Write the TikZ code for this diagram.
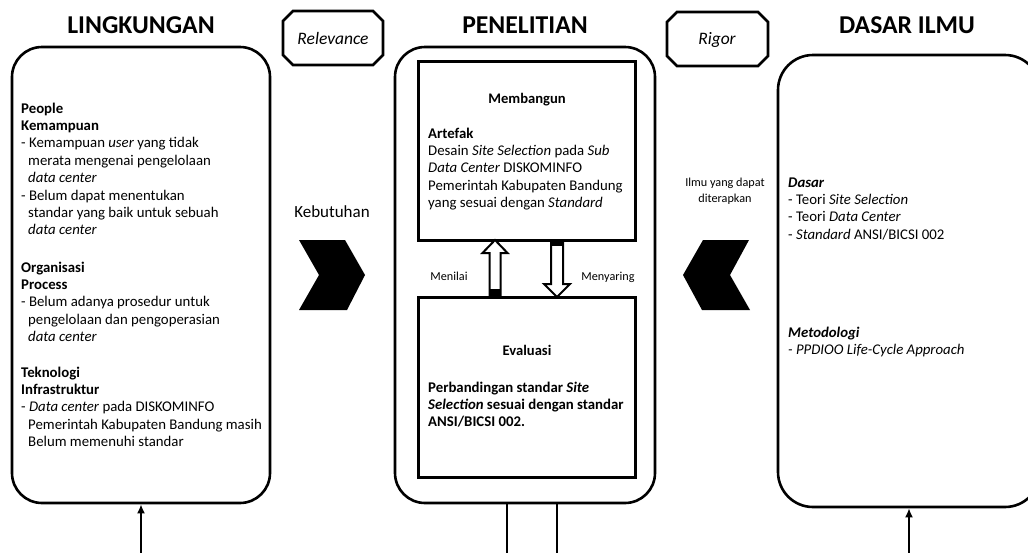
\documentclass[tikz,border=0pt]{standalone}
\usepackage{fontspec}
\setmainfont{Carlito}
\usetikzlibrary{arrows.meta}
\begin{document}
\begin{tikzpicture}[x=1pt,y=-1pt,
  outerbox/.style={draw, line width=2.6pt, rounded corners=30pt, inner sep=0},
  innerbox/.style={draw, line width=3pt, inner sep=0},
  titletext/.style={font=\fontsize{25.7}{30}\selectfont\bfseries, anchor=base, inner sep=0},
  bodytext/.style={font=\fontsize{14.8}{17.4}\selectfont, anchor=base west, inner sep=0},
  headtext/.style={font=\fontsize{14.6}{17.4}\selectfont\bfseries, anchor=base, inner sep=0},
  smalltext/.style={font=\fontsize{12.2}{15}\selectfont, anchor=base, inner sep=0},
  octtext/.style={font=\fontsize{17.5}{20}\selectfont\itshape, anchor=base, inner sep=0},
  octagon/.style={draw, line width=2.6pt, line join=miter},
  chevron/.style={fill=black},
  blockarrow/.style={draw, line width=2pt, fill=white, line join=miter},
  feedarrow/.style={-{Latex[length=9pt,width=8pt]}, line width=2pt}
]
\useasboundingbox (0,0) rectangle (1028,552);
\clip (0,0) rectangle (1028,552);

% titles
\node[titletext] (t1) at (141,33) {LINGKUNGAN};
\node[titletext] (t2) at (525,33) {PENELITIAN};
\node[titletext] (t3) at (907,33) {DASAR ILMU};

% octagons
\draw[octagon] (293,11) -- (373,11) -- (383,21) -- (383,55) -- (373,65) -- (293,65) -- (283,55) -- (283,21) -- cycle;
\node[octtext] (rel) at (333,44) {Relevance};
\draw[octagon] (677,12) -- (758,12) -- (768,22) -- (768,56) -- (758,66) -- (677,66) -- (667,56) -- (667,22) -- cycle;
\node[octtext] (rig) at (717,44) {Rigor};

% main boxes
\node[outerbox, minimum width=258pt, minimum height=456pt] (lbox) at (141,275) {};
\node[outerbox, minimum width=260pt, minimum height=456pt] (cbox) at (525,275) {};
\node[outerbox, rounded corners=35pt, minimum width=262pt, minimum height=452pt] (rbox) at (909,281) {};

% inner boxes
\node[innerbox, minimum width=217pt, minimum height=179pt] (build) at (526.5,150.5) {};
\node[innerbox, minimum width=217pt, minimum height=180pt] (eval) at (526.5,387) {};

% block arrows
\draw[blockarrow] (489.5,297) -- (489.5,253) -- (482.5,253) -- (495,240) -- (507.5,253) -- (500.5,253) -- (500.5,297) -- cycle;
\fill (489.5,289) rectangle (500.5,297);
\draw[blockarrow] (551,240) -- (551,284) -- (544,284) -- (557,297) -- (570,284) -- (563,284) -- (563,240) -- cycle;
\fill (551,240) rectangle (563,246);
\node[smalltext] (menilai) at (449,280) {Menilai};
\node[smalltext] (menyaring) at (608,280) {Menyaring};

% chevrons
\fill[chevron] (299,240) -- (345,240) -- (365,275) -- (347,310) -- (299,310) -- (319,275) -- cycle;
\fill[chevron] (703,240) -- (749,240) -- (730,275) -- (750,310) -- (702,310) -- (683,275) -- cycle;
\node[font=\fontsize{17}{20}\selectfont, anchor=base, inner sep=0] (keb) at (332,217) {Kebutuhan};
\node[smalltext] (ilmu1) at (725,186) {Ilmu yang dapat};
\node[smalltext] (ilmu2) at (725,202) {diterapkan};

% bottom connectors
\coordinate (lbot) at (141,560);
\coordinate (rbot) at (909,560);
\draw[feedarrow] (lbot) -- (lbox.south);
\draw[feedarrow] (rbot) -- (rbox.south);
\coordinate (c1) at (507,560);
\coordinate (c2) at (557,560);
\draw[line width=2.2pt] (c1) -- (c1 |- cbox.south);
\draw[line width=2.2pt] (c2) -- (c2 |- cbox.south);

% left box text
\node[bodytext] (ppl) at (21,113) {\parbox[t]{250pt}{\raggedright
\textbf{People}\\
\textbf{Kemampuan}\\
- Kemampuan \textit{user} yang tidak\\
\hspace*{7pt}merata mengenai pengelolaan\\
\hspace*{7pt}\textit{data center}\\
- Belum dapat menentukan\\
\hspace*{7pt}standar yang baik untuk sebuah\\
\hspace*{7pt}\textit{data center}}};
\node[bodytext] (org) at (21,272) {\parbox[t]{250pt}{\raggedright
\textbf{Organisasi}\\
\textbf{Process}\\
- Belum adanya prosedur untuk\\
\hspace*{7pt}pengelolaan dan pengoperasian\\
\hspace*{7pt}\textit{data center}}};
\node[bodytext] (tek) at (21,377) {\parbox[t]{250pt}{\raggedright
\textbf{Teknologi}\\
\textbf{Infrastruktur}\\
- \textit{Data center} pada DISKOMINFO\\
\hspace*{7pt}Pemerintah Kabupaten Bandung masih\\
\hspace*{7pt}Belum memenuhi standar}};

% center text
\node[headtext] (memb) at (527,103) {Membangun};
\node[bodytext] (art) at (428,138) {\parbox[t]{205pt}{\raggedright
\textbf{Artefak}\\
Desain \textit{Site Selection} pada \textit{Sub}\\
\textit{Data Center} DISKOMINFO\\
Pemerintah Kabupaten Bandung\\
yang sesuai dengan \textit{Standard}}};
\node[headtext] (evt) at (527,355) {Evaluasi};
\node[bodytext] (perb) at (428,392) {\parbox[t]{205pt}{\raggedright\bfseries
Perbandingan standar \textit{Site}\\
\textit{Selection} sesuai dengan standar\\
ANSI/BICSI 002.}};

% right text
\node[bodytext] (dasar) at (788,187) {\parbox[t]{230pt}{\raggedright
\textbf{\textit{Dasar}}\\
- Teori \textit{Site Selection}\\
- Teori \textit{Data Center}\\
- \textit{Standard} ANSI/BICSI 002}};
\node[bodytext] (meto) at (788,337) {\parbox[t]{230pt}{\raggedright
\textbf{\textit{Metodologi}}\\
\textit{- PPDIOO Life-Cycle Approach}}};
\end{tikzpicture}
\end{document}
